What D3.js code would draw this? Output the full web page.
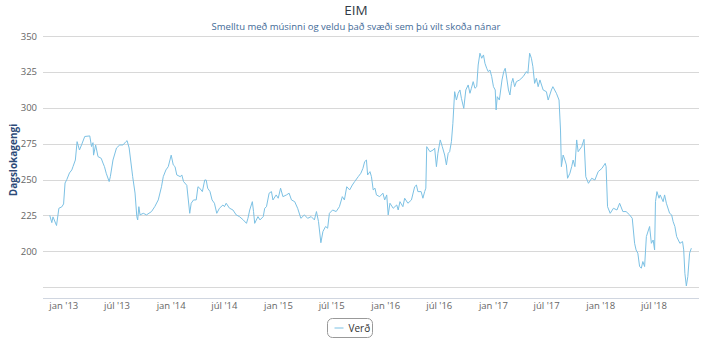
<!DOCTYPE html>
<html>
<head>
<meta charset="utf-8">
<script src="https://cdn.jsdelivr.net/npm/d3@7"></script>
<style>
  body { margin: 0; background: #fff; }
  svg { font-family: "Open Sans", sans-serif; }
</style>
</head>
<body>
<div id="chart"></div>
<script>
// series: EIM closing price
var dates = [
  "2012-11-16","2012-11-23","2012-11-27","2012-12-09","2012-12-17","2012-12-27",
  "2013-01-02","2013-01-07","2013-01-13","2013-01-22","2013-01-30","2013-02-03","2013-02-11","2013-02-17","2013-02-25",
  "2013-03-04","2013-03-15","2013-04-01","2013-04-07","2013-04-12","2013-04-14","2013-04-21","2013-04-29","2013-05-10",
  "2013-05-16","2013-05-21","2013-05-27","2013-06-06","2013-06-10","2013-06-19","2013-07-01","2013-07-12","2013-07-23",
  "2013-08-02","2013-08-06","2013-08-13","2013-08-25","2013-09-02","2013-09-08","2013-09-11","2013-09-15","2013-09-19",
  "2013-09-30","2013-10-11","2013-10-28","2013-11-08","2013-11-20","2013-12-01","2013-12-07","2013-12-16","2013-12-24",
  "2014-01-03","2014-01-10","2014-01-16","2014-01-22","2014-02-03","2014-02-08","2014-02-14","2014-02-25","2014-03-07",
  "2014-03-12","2014-03-20","2014-03-29","2014-04-04","2014-04-10","2014-04-19","2014-04-27","2014-05-02","2014-05-07",
  "2014-05-15","2014-05-22","2014-05-30","2014-06-07","2014-06-16","2014-06-28","2014-07-03","2014-07-09","2014-07-20",
  "2014-08-01","2014-08-12","2014-08-23","2014-09-05","2014-09-16","2014-09-21","2014-09-27","2014-10-06","2014-10-10",
  "2014-10-14","2014-10-25","2014-11-01","2014-11-12","2014-11-17","2014-11-23","2014-12-02","2014-12-10","2014-12-15",
  "2014-12-26","2015-01-02","2015-01-10","2015-01-18","2015-01-30","2015-02-08","2015-02-16","2015-02-27","2015-03-09",
  "2015-03-20","2015-04-01","2015-04-12","2015-04-24","2015-05-05","2015-05-12","2015-05-19","2015-05-27","2015-06-03",
  "2015-06-12","2015-06-19","2015-06-25","2015-07-06","2015-07-18","2015-07-29","2015-08-08","2015-08-15","2015-08-23",
  "2015-09-02","2015-09-11","2015-09-19","2015-10-01","2015-10-10","2015-10-17","2015-10-23","2015-10-29","2015-11-02",
  "2015-11-10","2015-11-15","2015-11-21","2015-11-27","2015-12-02","2015-12-13","2015-12-24","2015-12-30","2016-01-06",
  "2016-01-11","2016-01-17","2016-01-28","2016-02-09","2016-02-14","2016-02-20","2016-03-01","2016-03-07","2016-03-18",
  "2016-03-30","2016-04-10","2016-04-16","2016-04-21","2016-05-02","2016-05-08","2016-05-14","2016-05-18","2016-05-21",
  "2016-06-01","2016-06-12","2016-06-17","2016-06-23","2016-06-28","2016-07-06","2016-07-13","2016-07-21","2016-07-27",
  "2016-08-02","2016-08-07","2016-08-13","2016-08-18","2016-08-24","2016-08-30","2016-09-05","2016-09-11","2016-09-16",
  "2016-09-24","2016-10-01","2016-10-09","2016-10-15","2016-10-20","2016-10-26","2016-11-01","2016-11-07","2016-11-12",
  "2016-11-18","2016-11-24","2016-11-30","2016-12-05","2016-12-11","2016-12-16","2016-12-22","2016-12-28","2017-01-03",
  "2017-01-09","2017-01-12","2017-01-16","2017-01-23","2017-02-01","2017-02-07","2017-02-12","2017-02-18","2017-02-23",
  "2017-02-28","2017-03-05","2017-03-10","2017-03-16","2017-03-22","2017-04-02","2017-04-14","2017-04-25","2017-04-30",
  "2017-05-06","2017-05-12","2017-05-17","2017-05-23","2017-05-29","2017-06-04","2017-06-10","2017-06-21","2017-07-02",
  "2017-07-08","2017-07-19","2017-07-24","2017-08-05","2017-08-14","2017-08-19","2017-08-22","2017-08-28","2017-09-03",
  "2017-09-08","2017-09-12","2017-09-20","2017-09-26","2017-10-01","2017-10-07","2017-10-13","2017-10-18","2017-10-30",
  "2017-11-07","2017-11-13","2017-11-22","2017-12-03","2017-12-14","2017-12-25","2018-01-07","2018-01-18","2018-01-21",
  "2018-01-26","2018-02-04","2018-02-15","2018-02-27","2018-03-08","2018-03-19","2018-03-30","2018-04-11","2018-04-20",
  "2018-04-28","2018-05-03","2018-05-09","2018-05-15","2018-05-21","2018-05-26","2018-06-01","2018-06-07","2018-06-18",
  "2018-06-24","2018-06-30","2018-07-05","2018-07-08","2018-07-13","2018-07-20","2018-07-24","2018-08-03","2018-08-08",
  "2018-08-14","2018-08-25","2018-09-01","2018-09-06","2018-09-12","2018-09-18","2018-09-29","2018-10-08","2018-10-12",
  "2018-10-16","2018-10-21","2018-10-26","2018-11-01","2018-11-07"
];
var prices = [
  225,220,224,218,230,231,
  233,247.6,250,254.6,256.7,259,263.6,276.4,270.6,
  274.1,280,280.4,273,275.7,267,274.1,266,264.8,
  261.5,259,254.4,248.6,252,263.6,272,274.1,274.1,
  276.4,277.1,272,252,240.6,224.2,221.9,231.1,225.4,
  226.5,225.4,227.7,231.1,235.8,245,252,256.7,259,
  267,260.2,259,253.2,252,253.2,248.6,246,226.5,
  233.5,235.8,235.8,245,244,241.6,249.7,249.7,244,
  241.6,235.8,233.5,226.5,230,232.3,231.1,233.5,230.1,
  228.8,225.4,224.2,221.9,219.5,223,228.8,234.6,227.7,
  219.5,224.2,221.9,224.2,230,231.1,240.5,241.6,235.8,
  239.3,237,244,238.1,239.3,240.5,235.8,234.6,230,
  223,225.4,223,224.2,221.9,227.7,220.7,206,213.8,
  217.3,216.1,226.5,228.8,227.7,231.1,238.1,235.8,245,
  242.8,246.2,248.6,252,254.4,257.8,262.5,263.6,253.2,
  255.5,252,242.8,244,239.3,238.1,240.5,235.8,239.3,
  225.4,233.5,230,232.3,228.8,234.6,231.1,237,233.5,
  235.8,245,246.2,241.6,241.6,237,241.6,244,272.9,
  269.4,270.6,271.8,259,268.3,277.6,272.9,267.1,260.2,
  268.3,269.4,276.4,289.2,311.2,305.4,310.1,312.4,306.6,
  299.6,312.4,315.9,310.1,313.6,318.2,313.6,314.7,329.8,
  338,334.5,336.8,331,327.5,325.2,326.3,321.7,314.7,
  312.4,298.5,307.7,305.4,319.4,325.2,327.5,319.4,312.4,
  308.9,317,320.5,314.7,318.2,319.4,321.7,325.2,324,
  338,334.5,328.7,317,320.5,314.7,319.4,312.4,311.2,
  305.4,312.4,314.7,310.1,305.4,284.5,259,267.1,263.6,
  260.2,250.9,254.4,259,263.6,259,277.6,269.4,272.9,
  278,252,247.4,250.9,249.7,255.5,257.8,261.3,259,
  231.1,226.5,230,228.8,233.5,227.7,227.7,225.4,223,
  205.6,201,198.7,189.4,188.3,192.9,189.4,210.3,217.3,
  205.6,207.9,201,234.6,241.6,237,239.3,234.6,239.3,
  233.5,226.5,225.4,220.7,217.3,210.3,205.6,206.8,201,
  184.7,175.9,182.4,198.7,202.2
];
var yTicks = [175, 200, 225, 250, 275, 300, 325, 350];
var yLabelTicks = [200, 225, 250, 275, 300, 325, 350];
var monthNames = ["jan", "feb", "mar", "apr", "maí", "jún", "júl", "ágú", "sep", "okt", "nóv", "des"];
var xStart = "2012-10-24", xEnd = "2018-12-03";

var W = 713, H = 350;
var plot = { left: 43, right: 699, top: 36, bottom: 298 };

var parse = d3.timeParse("%Y-%m-%d");
var data = dates.map(function (d, i) { return { date: parse(d), value: prices[i] }; });

var x = d3.scaleTime()
    .domain([parse(xStart), parse(xEnd)])
    .range([plot.left, plot.right]);
var y = d3.scaleLinear()
    .domain([167.5, 350])
    .range([plot.bottom, plot.top]);

var svg = d3.select("#chart").append("svg")
    .attr("width", W)
    .attr("height", H);

// title + subtitle
svg.append("text")
    .attr("x", 356).attr("y", 15)
    .attr("text-anchor", "middle")
    .attr("font-size", 13.5)
    .attr("fill", "#333b47")
    .text("EIM");
svg.append("text")
    .attr("x", 356).attr("y", 29.5)
    .attr("text-anchor", "middle")
    .attr("font-size", 9.5)
    .attr("fill", "#3f6a97")
    .text("Smelltu með músinni og veldu það svæði sem þú vilt skoða nánar");

// grid
svg.append("g")
    .selectAll("line")
    .data(yTicks)
    .join("line")
    .attr("x1", plot.left).attr("x2", plot.right)
    .attr("y1", function (d) { return Math.round(y(d)) + 0.5; })
    .attr("y2", function (d) { return Math.round(y(d)) + 0.5; })
    .attr("stroke", "#d8d8d8")
    .attr("stroke-width", 1);

// y labels
svg.append("g")
    .selectAll("text")
    .data(yLabelTicks)
    .join("text")
    .attr("x", 37)
    .attr("y", function (d) { return y(d) + 3.5; })
    .attr("text-anchor", "end")
    .attr("font-size", 9.5)
    .attr("fill", "#666")
    .text(function (d) { return d; });

// y title
svg.append("text")
    .attr("transform", "translate(17,160) rotate(-90)")
    .attr("text-anchor", "middle")
    .attr("font-size", 10)
    .attr("font-weight", "bold")
    .attr("fill", "#2c4a78")
    .text("Dagslokagengi");

// x axis
var xAxis = d3.axisBottom(x)
    .ticks(d3.timeMonth.every(6))
    .tickSize(0)
    .tickPadding(4)
    .tickFormat(function (d) {
        return monthNames[d.getMonth()] + " '" + d3.timeFormat("%y")(d);
    });
var gx = svg.append("g")
    .attr("transform", "translate(0," + plot.bottom + ")")
    .call(xAxis);
gx.select(".domain").remove();
gx.selectAll("text")
    .attr("font-family", "Open Sans, sans-serif")
    .attr("font-size", 9.5)
    .attr("fill", "#666");
svg.append("line")
    .attr("x1", plot.left).attr("x2", plot.right)
    .attr("y1", plot.bottom + 0.5).attr("y2", plot.bottom + 0.5)
    .attr("stroke", "#d0d6e0");

// line
var line = d3.line()
    .x(function (d) { return x(d.date); })
    .y(function (d) { return y(d.value); });
svg.append("path")
    .datum(data)
    .attr("fill", "none")
    .attr("stroke", "#7cc1e4")
    .attr("stroke-width", 1)
    .attr("d", line);

// legend
var lg = svg.append("g").attr("transform", "translate(327.5,318.5)");
lg.append("rect")
    .attr("width", 45).attr("height", 19)
    .attr("rx", 5)
    .attr("fill", "#fff")
    .attr("stroke", "#999");
lg.append("line")
    .attr("x1", 7).attr("x2", 16)
    .attr("y1", 9.5).attr("y2", 9.5)
    .attr("stroke", "#7cc1e4");
lg.append("text")
    .attr("x", 21).attr("y", 13)
    .attr("font-size", 10)
    .attr("fill", "#333")
    .text("Verð");
</script>
</body>
</html>
